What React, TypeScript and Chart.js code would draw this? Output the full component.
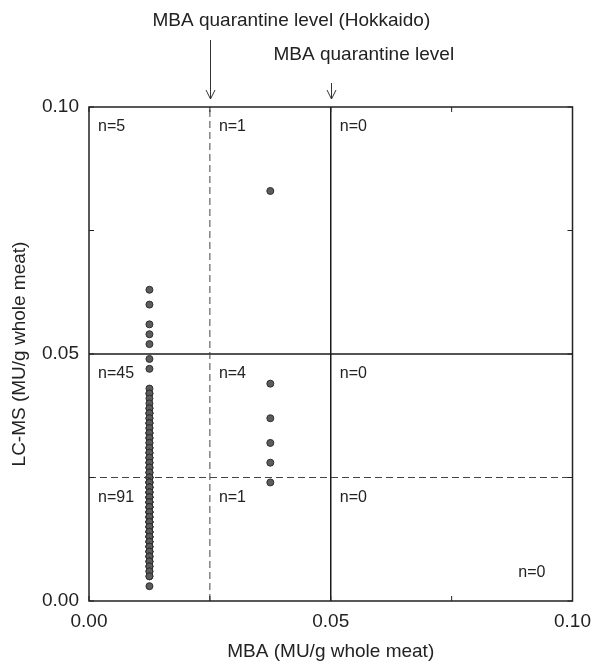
import React, { useEffect, useRef } from "react";
import { Chart, registerables } from "chart.js";

Chart.register(...registerables);

// ---- data ----
const xTickValues = [0, 0.05, 0.1];
const yTickValues = [0, 0.05, 0.1];
const tickMarkValues = [0, 0.025, 0.05, 0.075, 0.1];

const mbaBelowLimit = 0.0125; // MBA value plotted for samples below detection
const mbaLowGroup = 0.0375;

const lcmsAtMbaBelowLimit = [
  // above 0.05 (n=5)
  0.063, 0.06, 0.056, 0.054, 0.052,
  // 0.025 - 0.05 (n=45)
  0.049, 0.047, 0.043, 0.042, 0.042, 0.041, 0.04, 0.039, 0.039, 0.038, 0.038, 0.038,
  0.037, 0.037, 0.036, 0.036, 0.036, 0.035, 0.035, 0.034, 0.034, 0.034, 0.033, 0.033,
  0.033, 0.032, 0.032, 0.031, 0.031, 0.031, 0.03, 0.03, 0.03, 0.029, 0.029, 0.029,
  0.028, 0.028, 0.028, 0.027, 0.027, 0.027, 0.026, 0.026, 0.026,
  // below 0.025 (n=91)
  0.025, 0.025, 0.025, 0.025, 0.025,
  0.024, 0.024, 0.024, 0.024, 0.024,
  0.023, 0.023, 0.023, 0.023, 0.023,
  0.022, 0.022, 0.022, 0.022, 0.022,
  0.021, 0.021, 0.021, 0.021, 0.021,
  0.02, 0.02, 0.02, 0.02, 0.02,
  0.019, 0.019, 0.019, 0.019, 0.019,
  0.018, 0.018, 0.018, 0.018, 0.018,
  0.017, 0.017, 0.017, 0.017, 0.017,
  0.016, 0.016, 0.016, 0.016, 0.016,
  0.015, 0.015, 0.015, 0.015,
  0.014, 0.014, 0.014, 0.014, 0.014,
  0.013, 0.013, 0.013, 0.013, 0.013,
  0.012, 0.012, 0.012, 0.012,
  0.011, 0.011, 0.011, 0.011,
  0.01, 0.01, 0.01, 0.01,
  0.009, 0.009, 0.009, 0.009,
  0.008, 0.008, 0.008,
  0.007, 0.007, 0.007,
  0.006, 0.006,
  0.005, 0.005,
  0.003,
];

const lcmsAtMbaLowGroup = [0.083, 0.044, 0.037, 0.032, 0.028, 0.024];

const hokkaidoLevel = 0.025;
const quarantineLevel = 0.05;

const levelLabels = ["MBA quarantine level (Hokkaido)", "MBA quarantine level"];
const levelValues = [hokkaidoLevel, quarantineLevel];

const cellColumnStarts = [0, 0.025, 0.05];
const cellRowTops = [0.1, 0.05, 0.025];
const countsTopRow = ["n=5", "n=1", "n=0"];
const countsMidRow = ["n=45", "n=4", "n=0"];
const countsLowRow = ["n=91", "n=1", "n=0"];
const cornerCount = "n=0";

const xTitle = "MBA (MU/g whole meat)";
const yTitle = "LC-MS (MU/g whole meat)";

const FONT = "'Liberation Sans', Arial, Helvetica, sans-serif";
const TEXT = "#222";

const decorPlugin = {
  id: "decor",
  afterDatasetsDraw(chart: any) {
    const { ctx, chartArea, scales } = chart;
    const xs = scales.x;
    const ys = scales.y;
    ctx.save();

    // frame
    ctx.strokeStyle = "#222";
    ctx.lineWidth = 1.5;
    ctx.setLineDash([]);
    ctx.strokeRect(
      chartArea.left,
      chartArea.top,
      chartArea.right - chartArea.left,
      chartArea.bottom - chartArea.top
    );

    // inward tick marks
    const tl = 5;
    ctx.lineWidth = 1;
    ctx.beginPath();
    tickMarkValues.forEach((v) => {
      const px = xs.getPixelForValue(v);
      ctx.moveTo(px, chartArea.bottom);
      ctx.lineTo(px, chartArea.bottom - tl);
      ctx.moveTo(px, chartArea.top);
      ctx.lineTo(px, chartArea.top + tl);
      const py = ys.getPixelForValue(v);
      ctx.moveTo(chartArea.left, py);
      ctx.lineTo(chartArea.left + tl, py);
      ctx.moveTo(chartArea.right, py);
      ctx.lineTo(chartArea.right - tl, py);
    });
    ctx.stroke();

    // count labels
    ctx.fillStyle = TEXT;
    ctx.font = `16px ${FONT}`;
    ctx.textBaseline = "middle";
    ctx.textAlign = "left";
    const rows = [countsTopRow, countsMidRow, countsLowRow];
    rows.forEach((row, ri) => {
      row.forEach((txt, ci) => {
        const px = xs.getPixelForValue(cellColumnStarts[ci]) + 9;
        const py = ys.getPixelForValue(cellRowTops[ri]) + 20;
        ctx.fillText(txt, px, py);
      });
    });
    ctx.textAlign = "right";
    ctx.fillText(cornerCount, xs.getPixelForValue(0.1) - 27, ys.getPixelForValue(0) - 28);

    // level annotations with arrows
    ctx.font = `19px ${FONT}`;
    ctx.textAlign = "left";
    const textY = [21, 55];
    const arrowStart = [40, 83];
    levelValues.forEach((v, i) => {
      const px = Math.round(xs.getPixelForValue(v)) + 0.5;
      ctx.fillText(levelLabels[i], px - 58, textY[i]);
      const yEnd = chartArea.top - 8;
      ctx.strokeStyle = "#333";
      ctx.lineWidth = 1;
      ctx.beginPath();
      ctx.moveTo(px, arrowStart[i]);
      ctx.lineTo(px, yEnd);
      ctx.moveTo(px - 4.5, yEnd - 9);
      ctx.lineTo(px, yEnd);
      ctx.lineTo(px + 4.5, yEnd - 9);
      ctx.stroke();
    });

    ctx.restore();
  },
};

export default function App() {
  const canvasRef = useRef<HTMLCanvasElement | null>(null);

  useEffect(() => {
    if (!canvasRef.current) return;
    const pointStyle = {
      pointRadius: 3.5,
      pointBackgroundColor: "#5c5c5c",
      pointBorderColor: "#2e2e2e",
      pointBorderWidth: 1,
      showLine: false,
    };
    const lineStyle = (dashed: boolean) => ({
      showLine: true,
      pointRadius: 0,
      borderColor: dashed ? "#444" : "#1a1a1a",
      borderWidth: dashed ? 1 : 1.5,
      borderDash: dashed ? [7, 4] : [],
      fill: false,
    });
    const chart = new Chart(canvasRef.current, {
      type: "scatter",
      data: {
        datasets: [
          {
            label: "Hokkaido level (vertical)",
            data: [
              { x: hokkaidoLevel, y: 0 },
              { x: hokkaidoLevel, y: 0.1 },
            ],
            ...lineStyle(true),
          },
          {
            label: "Hokkaido level (horizontal)",
            data: [
              { x: 0, y: hokkaidoLevel },
              { x: 0.1, y: hokkaidoLevel },
            ],
            ...lineStyle(true),
          },
          {
            label: "Quarantine level (vertical)",
            data: [
              { x: quarantineLevel, y: 0 },
              { x: quarantineLevel, y: 0.1 },
            ],
            ...lineStyle(false),
          },
          {
            label: "Quarantine level (horizontal)",
            data: [
              { x: 0, y: quarantineLevel },
              { x: 0.1, y: quarantineLevel },
            ],
            ...lineStyle(false),
          },
          {
            label: "Samples (MBA below limit)",
            data: lcmsAtMbaBelowLimit.map((y) => ({ x: mbaBelowLimit, y })),
            ...pointStyle,
          },
          {
            label: "Samples (MBA low)",
            data: lcmsAtMbaLowGroup.map((y) => ({ x: mbaLowGroup, y })),
            ...pointStyle,
          },
        ] as any,
      },
      options: {
        animation: false,
        responsive: true,
        maintainAspectRatio: false,
        layout: { padding: { left: 0, top: 107, right: 20, bottom: 0 } },
        plugins: {
          legend: { display: false },
          tooltip: { enabled: false },
        },
        scales: {
          x: {
            type: "linear",
            min: 0,
            max: 0.1,
            afterBuildTicks: (scale: any) => {
              scale.ticks = xTickValues.map((v) => ({ value: v }));
            },
            afterFit: (scale: any) => {
              scale.height = 66;
            },
            grid: { display: false, drawTicks: false },
            border: { display: false },
            ticks: {
              padding: 9,
              color: TEXT,
              font: { family: FONT, size: 19 },
              maxRotation: 0,
              callback: (v: any) => Number(v).toFixed(2),
            },
            title: {
              display: true,
              text: xTitle,
              color: TEXT,
              font: { family: FONT, size: 19 },
              padding: { top: 0, bottom: 4 },
            },
          },
          y: {
            type: "linear",
            min: 0,
            max: 0.1,
            afterBuildTicks: (scale: any) => {
              scale.ticks = yTickValues.map((v) => ({ value: v }));
            },
            afterFit: (scale: any) => {
              scale.width = 89;
            },
            grid: { display: false, drawTicks: false },
            border: { display: false },
            ticks: {
              padding: 10,
              color: TEXT,
              font: { family: FONT, size: 19 },
              callback: (v: any) => Number(v).toFixed(2),
            },
            title: {
              display: true,
              text: yTitle,
              color: TEXT,
              font: { family: FONT, size: 19 },
              padding: { top: 8, bottom: 0 },
            },
          },
        },
      } as any,
      plugins: [decorPlugin],
    });
    return () => chart.destroy();
  }, []);

  return (
    <div style={{ position: "absolute", left: 0, top: 0, width: 600, height: 667, background: "#fff" }}>
      <canvas ref={canvasRef} />
    </div>
  );
}
